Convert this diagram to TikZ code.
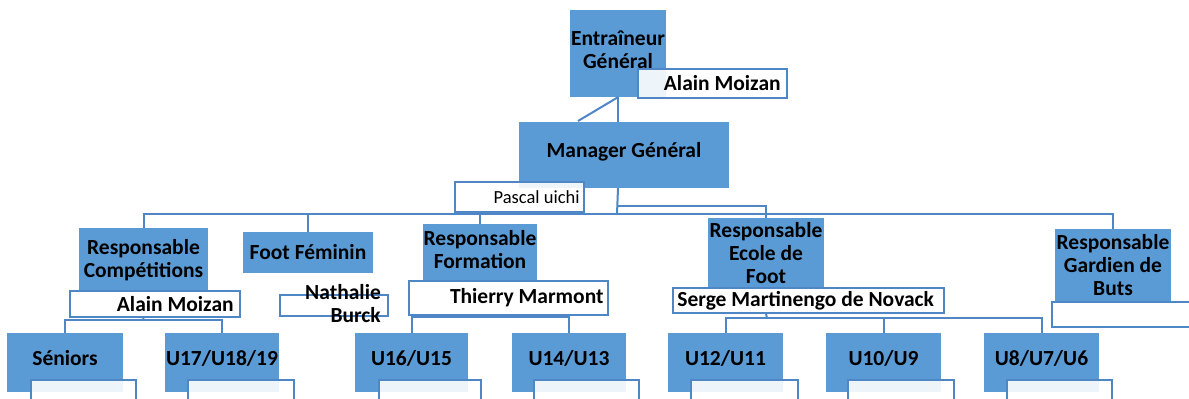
\documentclass[tikz,border=0pt]{standalone}
\usepackage{fontspec}
\setmainfont{Carlito}
\definecolor{boxblue}{HTML}{5B9BD5}
\definecolor{lineblue}{HTML}{4F86C6}
\begin{document}
\begin{tikzpicture}[x=1pt,y=-1pt,
  bx/.style={fill=boxblue, inner sep=0pt, align=center, font=\fontsize{21.5}{23}\selectfont\bfseries},
  tx/.style={inner sep=0pt, align=center, font=\fontsize{21.5}{23}\selectfont\bfseries},
  nb/.style={draw=lineblue, line width=1.6pt, fill=white, fill opacity=0.9, inner sep=0pt},
  nt/.style={font=\fontsize{21.5}{23}\selectfont\bfseries, inner sep=0pt, anchor=east, align=right},
  cn/.style={draw=lineblue, line width=2pt}]
\useasboundingbox (0,0) rectangle (1189,399);
% level 0 and 1
\node[bx, minimum width=96pt, minimum height=87pt] (eg) at (618,53.5) {};
\node[tx] (egl) at ([yshift=4pt]eg.center) {Entraîneur\\Général};
\node[nb, minimum width=149pt, minimum height=29pt] (egn) at (712.5,83.5) {};
\node[nt] (egt) at ([xshift=-7pt]egn.east) {Alain Moizan};
\node[bx, minimum width=210pt, minimum height=66pt] (mg) at (624,155) {};
\node[tx] (mgl) at ([yshift=3pt]mg.center) {Manager Général};
\node[nb, minimum width=129pt, minimum height=30pt] (mgn) at (519.5,197) {};
\node[nt, font=\fontsize{18.5}{20}\selectfont] (mgt) at ([xshift=-5pt]mgn.east) {Pascal uichi};
% level 2
\node[bx, minimum width=129pt, minimum height=64pt] (rc) at (143.5,260) {Responsable\\Compétitions};
\node[nb, minimum width=170pt, minimum height=26pt] (rcn) at (155,304) {};
\node[nt] (rct) at ([xshift=-7pt]rcn.east) {Alain Moizan};
\node[bx, minimum width=130pt, minimum height=41pt] (ff) at (308,252.5) {Foot Féminin};
\node[nb, minimum width=108pt, minimum height=21pt] (ffn) at (334,305.5) {};
\node[nt] (fft) at (381,304) {Nathalie\\Burck};
\node[bx, minimum width=114pt, minimum height=57pt] (rf) at (480,252.5) {};
\node[tx] (rfl) at ([yshift=3pt]rf.center) {Responsable\\Formation};
\node[nb, minimum width=199pt, minimum height=34pt] (rfn) at (508.5,298) {};
\node[nt] (rft) at ([xshift=-5pt]rfn.east) {Thierry Marmont};
\node[bx, minimum width=116pt, minimum height=70pt] (re) at (766,253) {Responsable\\Ecole de\\Foot};
\node[nb, minimum width=271pt, minimum height=25pt] (ren) at (808.5,300.5) {};
\node[nt, anchor=west] (ret) at ([xshift=5pt]ren.west) {Serge Martinengo de Novack};
\node[bx, minimum width=116pt, minimum height=73pt] (rg) at (1113,265.5) {Responsable\\Gardien de\\Buts};
\node[nb, minimum width=143pt, minimum height=25pt] (rgn) at (1123.5,314.5) {};
% level 3
\node[bx, minimum width=116pt, minimum height=59pt] (s1) at (65,362.5) {};
\node[tx] (s1l) at ([yshift=4pt]s1.center) {Séniors};
\node[nb, minimum width=105pt, minimum height=26pt] (s1n) at (83.5,393) {};
\node[bx, minimum width=114pt, minimum height=59pt] (s2) at (222,362.5) {};
\node[tx] (s2l) at ([yshift=4pt]s2.center) {U17/U18/19};
\node[nb, minimum width=106pt, minimum height=26pt] (s2n) at (241,393) {};
\node[bx, minimum width=113pt, minimum height=59pt] (s3) at (411.5,362.5) {};
\node[tx] (s3l) at ([yshift=4pt]s3.center) {U16/U15};
\node[nb, minimum width=102pt, minimum height=26pt] (s3n) at (430,393) {};
\node[bx, minimum width=114pt, minimum height=59pt] (s4) at (569,362.5) {};
\node[tx] (s4l) at ([yshift=4pt]s4.center) {U14/U13};
\node[nb, minimum width=105pt, minimum height=26pt] (s4n) at (586.5,393) {};
\node[bx, minimum width=115pt, minimum height=59pt] (s5) at (725.5,362.5) {};
\node[tx] (s5l) at ([yshift=4pt]s5.center) {U12/U11};
\node[nb, minimum width=107pt, minimum height=26pt] (s5n) at (744.5,393) {};
\node[bx, minimum width=115pt, minimum height=59pt] (s6) at (883.5,362.5) {};
\node[tx] (s6l) at ([yshift=4pt]s6.center) {U10/U9};
\node[nb, minimum width=106pt, minimum height=26pt] (s6n) at (901,393) {};
\node[bx, minimum width=115pt, minimum height=59pt] (s7) at (1041.5,362.5) {};
\node[tx] (s7l) at ([yshift=4pt]s7.center) {U8/U7/U6};
\node[nb, minimum width=105pt, minimum height=26pt] (s7n) at (1059.5,393) {};
% connectors
\coordinate (dg) at (578,121);
\coordinate (mj) at (617,214);
\coordinate (ej) at (617,206);
\coordinate (j1) at (143,320);
\coordinate (j2) at (480,317);
\coordinate (j3) at (767,318);
\draw[cn] (eg.south) -- (eg.south |- mg.north);
\draw[cn] (eg.south) -- (dg);
\draw[cn] (mg.south -| eg.south) -- (mj);
\draw[cn] (rc.north) -- (rc.north |- mj) -- (rg.north |- mj) -- (rg.north);
\draw[cn] (ff.north) -- (ff.north |- mj);
\draw[cn] (rf.north) -- (rf.north |- mj);
\draw[cn] (ej) -| (re.north);
\draw[cn] (rc.south |- rcn.south) -- (j1);
\draw[cn] (s1.north) |- (j1) -| (s2.north);
\draw[cn] (rf.south |- rfn.south) -- (j2);
\draw[cn] (s3.north) |- (j2) -| (s4.north);
\draw[cn] (re.south |- ren.south) -- (j3);
\draw[cn] (s5.north) |- (j3) -| (s7.north);
\draw[cn] (s6.north) -- (s6.north |- j3);
\end{tikzpicture}
\end{document}
